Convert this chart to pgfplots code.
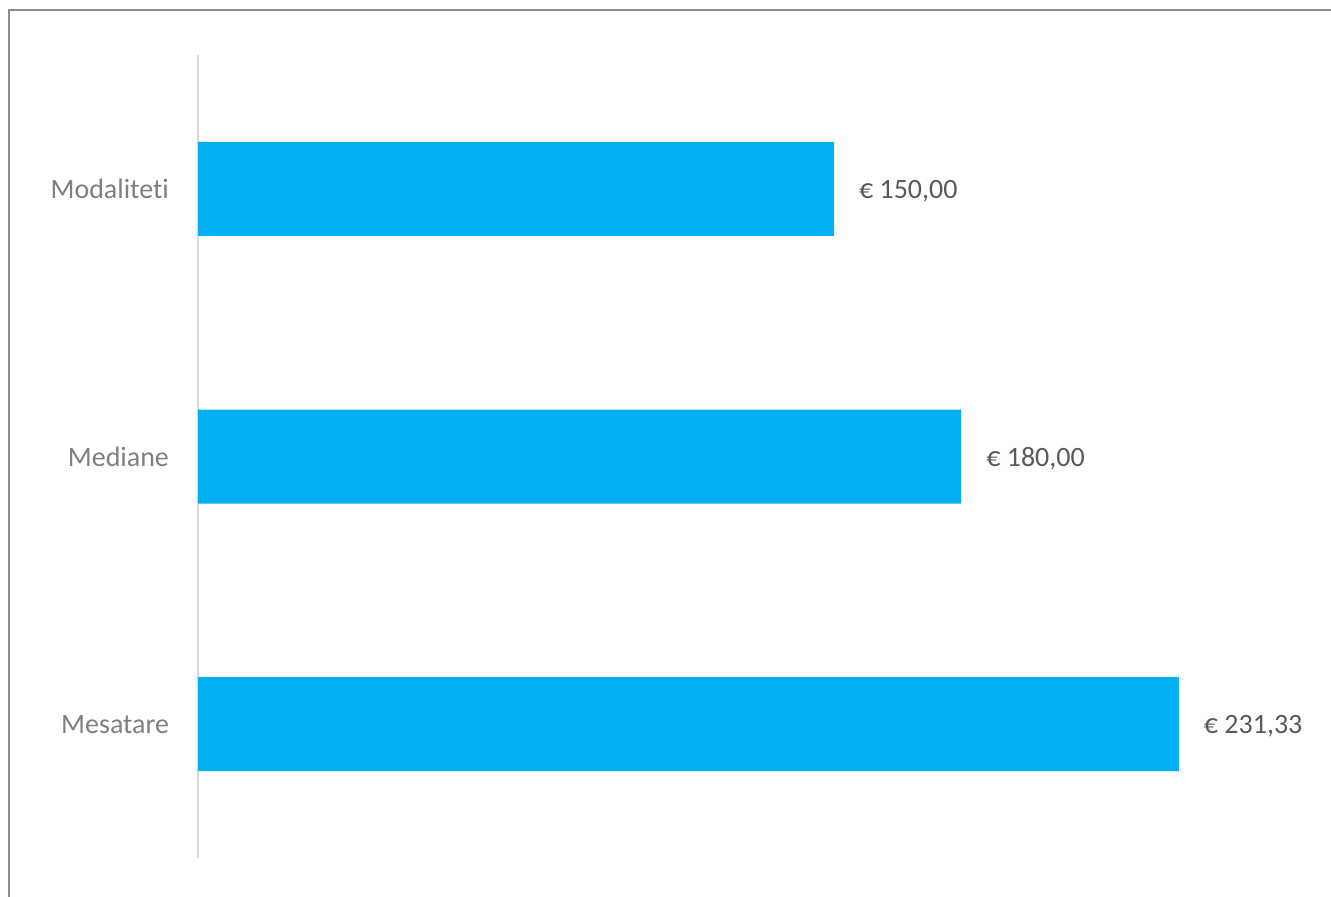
\documentclass[border=0pt]{standalone}
\usepackage{fontspec}
\setmainfont{Carlito}[Ligatures={NoCommon}]
\usepackage{pgfplots}
\pgfplotsset{compat=1.18}
\definecolor{barblue}{HTML}{00B0F0}
\definecolor{valgrey}{HTML}{595959}
\definecolor{catgrey}{HTML}{7F7F7F}
\definecolor{axgrey}{HTML}{D9D9D9}
\definecolor{framegrey}{HTML}{8C8C8C}
\begin{document}
\begin{tikzpicture}
\useasboundingbox (0pt,0pt) rectangle (665.5pt,-448pt);
\draw[framegrey,line width=0.8pt] (4.5pt,-460pt) -- (4.5pt,-5pt) -- (670pt,-5pt);
\begin{axis}[
  at={(99pt,-27.5pt)}, anchor=north west,
  scale only axis,
  width=530pt, height=401.5pt,
  xbar, bar width=47pt,
  xmin=0, xmax=250,
  ymin=-0.5, ymax=2.5,
  ytick={0,1,2},
  yticklabels={Mesatare,Mediane,Modaliteti},
  yticklabel style={font=\fontsize{14}{16}\selectfont, text=catgrey, xshift=-11pt},
  xtick=\empty,
  major tick length=0pt,
  axis x line=none,
  axis y line*=left,
  y axis line style={axgrey, line width=0.8pt, -},
  nodes near coords={€ \pgfmathprintnumber[fixed,fixed zerofill,precision=2,use comma,1000 sep={},assume math mode=true]{\pgfplotspointmeta}},
  nodes near coords style={font=\fontsize{14}{16}\selectfont, text=valgrey, anchor=west, xshift=9pt, yshift=-1pt},
  point meta=explicit,
  clip=false,
]
\addplot[fill=barblue, draw=none] coordinates {(231.33,0) [231.33] (180,1) [180] (150,2) [150]};
\end{axis}
\end{tikzpicture}
\end{document}
